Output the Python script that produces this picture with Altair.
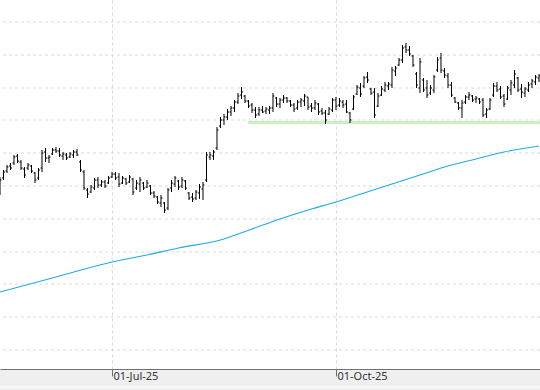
import altair as alt
import pandas as pd

# ---- OHLC prices (one bar per trading day) ----
highs = [22.3, 23.0, 23.5, 23.7, 24.5, 24.6, 24.0, 23.3, 23.7, 23.5,
         22.8, 23.2, 25.0, 25.2, 24.5, 25.2, 25.3, 25.2, 24.8, 24.7,
         24.8, 25.0, 25.1, 24.0, 23.0, 21.2, 21.5, 22.2, 22.3, 22.0,
         22.0, 22.4, 22.8, 22.8, 22.7, 22.4, 22.2, 22.5, 22.2, 22.0,
         22.3, 21.8, 22.0, 21.5, 20.9, 20.4, 20.5, 19.8, 21.2, 22.0,
         22.4, 22.0, 22.3, 22.0, 20.8, 20.7, 21.0, 21.6, 21.8, 24.8,
         24.8, 25.0, 27.3, 28.3, 28.6, 29.1, 29.4, 30.0, 30.7, 31.3,
         30.5, 30.0, 29.7, 29.3, 29.3, 29.4, 29.3, 29.4, 30.7, 30.3,
         30.2, 30.5, 30.3, 30.0, 29.7, 30.0, 30.2, 30.6, 30.3, 29.7,
         30.0, 29.7, 29.2, 29.0, 29.3, 30.2, 30.3, 30.2, 30.0, 30.0,
         28.8, 30.5, 31.5, 31.7, 32.4, 32.8, 31.2, 31.2, 30.7, 31.4,
         31.8, 31.8, 33.3, 33.4, 34.2, 35.5, 35.7, 35.4, 34.5, 32.8,
         34.2, 32.2, 32.0, 31.5, 32.5, 34.3, 34.7, 33.2, 32.7, 31.8,
         30.3, 29.8, 30.0, 30.5, 30.8, 30.5, 30.4, 30.2, 30.2, 29.2,
         30.2, 31.7, 31.8, 31.4, 30.6, 31.4, 32.0, 33.0, 32.3, 31.6,
         31.3, 31.8, 32.1, 32.5, 32.6]
lows = [20.5, 22.0, 22.7, 23.0, 23.5, 23.7, 23.0, 22.2, 23.0, 22.7,
        21.7, 22.0, 22.8, 23.8, 23.7, 24.5, 24.7, 24.3, 24.0, 24.0,
        24.2, 24.2, 24.4, 22.8, 21.0, 20.2, 20.7, 21.0, 21.2, 21.3,
        21.2, 21.6, 22.2, 22.0, 21.3, 21.6, 21.5, 21.7, 20.5, 21.0,
        20.8, 21.0, 21.2, 20.5, 20.2, 19.6, 19.3, 18.7, 19.0, 20.8,
        21.3, 21.0, 21.2, 21.0, 20.0, 19.8, 20.0, 20.1, 20.0, 21.8,
        24.0, 24.0, 25.0, 27.2, 27.5, 28.0, 28.4, 28.8, 29.6, 30.1,
        29.7, 29.2, 28.7, 28.2, 28.4, 28.7, 28.6, 28.6, 28.8, 29.3,
        29.2, 29.7, 29.7, 29.3, 28.8, 29.0, 29.3, 29.4, 29.0, 28.8,
        29.0, 28.5, 28.5, 27.6, 28.5, 28.8, 29.0, 29.3, 29.2, 28.7,
        27.7, 29.0, 30.5, 30.3, 31.2, 31.7, 30.5, 28.2, 29.3, 30.4,
        30.8, 31.0, 31.2, 32.4, 33.4, 33.7, 34.7, 34.4, 33.3, 31.2,
        30.7, 30.8, 30.2, 30.5, 30.7, 32.8, 32.7, 32.2, 31.2, 30.3,
        29.7, 29.0, 28.2, 29.6, 30.0, 29.8, 29.7, 29.6, 28.3, 28.2,
        29.0, 30.3, 30.8, 30.1, 29.3, 30.0, 30.5, 31.2, 30.8, 30.2,
        30.3, 30.8, 31.2, 31.5, 31.8]
opens = [21.0, 22.2, 22.9, 23.4, 23.7, 24.4, 23.8, 23.1, 23.2, 23.4,
         22.7, 22.2, 23.2, 24.8, 24.2, 24.6, 25.0, 24.9, 24.4, 24.5,
         24.3, 24.5, 24.8, 23.8, 22.8, 21.0, 20.8, 21.2, 22.0, 21.5,
         21.8, 21.7, 22.3, 22.6, 22.3, 21.7, 22.1, 21.8, 22.1, 21.2,
         21.6, 21.7, 21.3, 21.4, 20.7, 20.3, 19.7, 19.7, 19.2, 21.2,
         21.6, 21.9, 21.4, 21.9, 20.7, 20.3, 20.2, 20.7, 21.1, 22.0,
         24.3, 24.4, 25.2, 27.4, 28.0, 28.3, 28.8, 29.2, 29.8, 30.5,
         30.4, 29.9, 29.5, 29.0, 28.6, 29.0, 28.9, 29.0, 29.2, 30.2,
         29.6, 30.0, 30.2, 29.9, 29.5, 29.2, 29.8, 29.9, 30.3, 29.4,
         29.2, 29.6, 28.9, 28.7, 28.6, 29.0, 30.0, 29.5, 29.8, 29.6,
         28.7, 29.1, 30.6, 31.2, 31.4, 32.3, 31.1, 30.8, 29.4, 30.5,
         31.0, 31.4, 31.5, 32.9, 33.5, 34.0, 35.3, 35.0, 34.4, 32.6,
         31.2, 32.0, 31.2, 30.7, 31.0, 33.0, 34.2, 32.9, 32.4, 31.5,
         30.2, 29.7, 29.2, 29.8, 30.3, 30.4, 30.1, 30.1, 30.0, 28.6,
         29.1, 30.5, 31.4, 31.1, 30.4, 30.1, 31.0, 31.5, 32.2, 31.1,
         30.7, 31.0, 31.6, 31.8, 32.2]
closes = [22.0, 22.8, 23.3, 23.2, 24.3, 23.9, 23.2, 22.5, 23.5, 22.9,
          22.0, 23.0, 24.7, 24.2, 24.3, 25.0, 24.9, 24.5, 24.6, 24.2,
          24.6, 24.8, 24.5, 23.0, 21.2, 20.6, 21.3, 22.0, 21.5, 21.8,
          21.4, 22.2, 22.6, 22.2, 21.6, 22.2, 21.7, 22.3, 20.8, 21.7,
          22.0, 21.2, 21.7, 20.7, 20.4, 19.8, 20.2, 19.0, 21.0, 21.7,
          22.2, 21.3, 22.0, 21.2, 20.2, 20.1, 20.8, 21.3, 21.5, 24.5,
          24.5, 24.8, 27.0, 28.0, 28.3, 28.8, 29.2, 29.8, 30.4, 30.8,
          29.9, 29.4, 29.0, 28.5, 29.0, 28.8, 29.1, 29.2, 30.4, 29.6,
          30.0, 30.2, 29.9, 29.5, 29.1, 29.8, 30.0, 30.4, 29.3, 29.2,
          29.7, 28.8, 28.7, 28.0, 29.1, 30.0, 29.4, 29.9, 29.5, 28.8,
          28.0, 30.3, 31.3, 30.6, 32.2, 32.0, 30.7, 28.5, 30.4, 31.1,
          31.5, 31.6, 33.0, 33.2, 34.0, 35.2, 35.0, 34.6, 33.5, 31.5,
          33.8, 31.0, 30.5, 31.2, 32.3, 34.0, 33.0, 32.5, 31.5, 30.5,
          29.8, 29.2, 29.7, 30.3, 30.5, 30.0, 30.2, 29.8, 28.5, 29.0,
          30.0, 31.4, 31.0, 30.3, 29.6, 31.2, 31.7, 32.6, 31.0, 30.8,
          31.1, 31.5, 31.9, 32.3, 32.4]

# ---- long moving average (read at bar positions along the curve) ----
ma_idx = [0, 16, 32, 42, 51, 63, 72, 80, 89, 96, 104, 112, 120, 128, 136, 144, 154]
ma_val = [10.8, 12.3, 13.8, 14.5, 15.2, 16.0, 17.1, 18.1, 19.1, 19.8, 20.7,
          21.6, 22.5, 23.4, 24.1, 24.8, 25.4]

# ---- support line ----
support_level = 27.75
support_from = 70.9

# ---- axis ----
tick_idx = [32, 96]
tick_labels = ["01-Jul-25", "01-Oct-25"]
grid_levels = [37.8, 34.5, 31.2, 28.0, 24.7, 21.4, 18.1, 14.8, 11.6, 8.3, 5.0]

X_MAX = 154.29
Y_MIN, Y_MAX = 3.1, 40.0

bars = pd.DataFrame({
    "i": list(range(len(highs))),
    "high": highs, "low": lows, "open": opens, "close": closes,
})
ma = pd.DataFrame({"i": ma_idx, "v": ma_val})
sup = pd.DataFrame({"a": [support_from], "b": [X_MAX + 5], "v": [support_level]})
grid = pd.DataFrame({"v": grid_levels})

label_expr = "".join(
    f"datum.value == {v} ? '{l}' : " for v, l in zip(tick_idx, tick_labels)
) + "''"

xs = alt.Scale(domain=[0, X_MAX], nice=False, zero=False)
ys = alt.Scale(domain=[Y_MIN, Y_MAX], nice=False, zero=False)

x_axis = alt.Axis(
    values=tick_idx, labelExpr=label_expr, title=None,
    grid=True, gridDash=[3, 3], gridColor="#d9d9d9", gridWidth=1,
    domainColor="#707070", domainWidth=1,
    tickColor="#707070", tickSize=7, tickWidth=1,
    labelAlign="left", labelBaseline="top", labelPadding=-6, labelOffset=1,
    labelFont="Noto Sans", labelFontSize=11, labelColor="#333333",
    labelFlush=False, labelOverlap=False,
)

grid_rules = alt.Chart(grid).mark_rule(
    color="#d9d9d9", strokeWidth=1, strokeDash=[3, 3]
).encode(y=alt.Y("v:Q", scale=ys, axis=None))

base = alt.Chart(bars)

hl = base.mark_rule(color="#000000", strokeWidth=1, clip=True).encode(
    x=alt.X("i:Q", scale=xs, axis=x_axis),
    y=alt.Y("low:Q", scale=ys, axis=None),
    y2="high:Q",
)
op = base.transform_calculate(xo="datum.i - 0.42").mark_rule(
    color="#000000", strokeWidth=1, clip=True
).encode(
    x=alt.X("xo:Q", scale=xs), x2="i:Q", y=alt.Y("open:Q", scale=ys, axis=None)
)
cl = base.transform_calculate(xc="datum.i + 0.42").mark_rule(
    color="#000000", strokeWidth=1, clip=True
).encode(
    x=alt.X("i:Q", scale=xs), x2="xc:Q", y=alt.Y("close:Q", scale=ys, axis=None)
)

ma_line = alt.Chart(ma).mark_line(
    color="#22a9e8", strokeWidth=1.1, clip=True, interpolate="monotone"
).encode(
    x=alt.X("i:Q", scale=xs), y=alt.Y("v:Q", scale=ys, axis=None)
)

sup_line = alt.Chart(sup).mark_rule(color="#c6f2c0", strokeWidth=3, clip=True).encode(
    x=alt.X("a:Q", scale=xs), x2="b:Q", y=alt.Y("v:Q", scale=ys, axis=None)
)

# thin light line near the bottom of the date strip
strip_line = alt.Chart(grid).mark_rule(color="#fafafa", strokeWidth=1).encode(
    x=alt.value(0), x2=alt.value(540), y=alt.value(387)
)

chart = alt.layer(grid_rules, sup_line, ma_line, hl, op, cl, strip_line).properties(
    width=540, height=369,
    background="#efefef",
    padding={"left": 0, "right": 0, "top": 0, "bottom": 21},
    autosize=alt.AutoSizeParams(type="none"),
).configure_view(stroke=None, fill="#ffffff")

chart.save("out.html", embed_options={"renderer": "svg", "actions": False})
